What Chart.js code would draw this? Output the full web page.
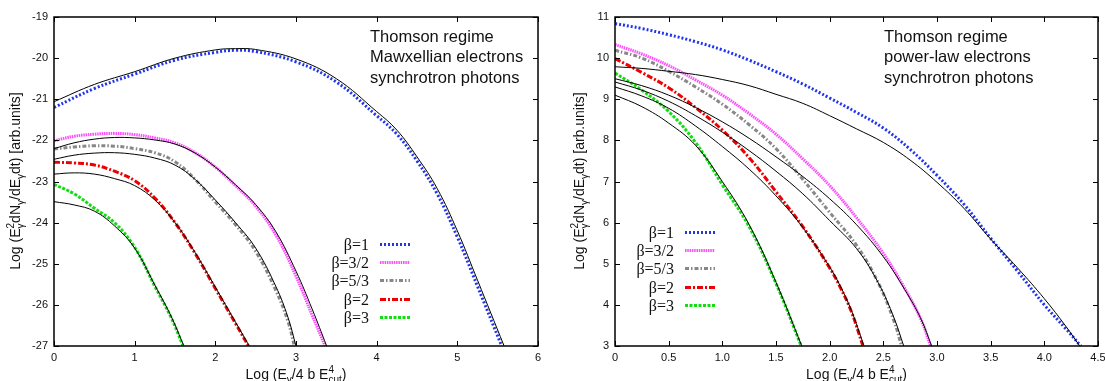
<!DOCTYPE html>
<html lang="en">
<head>
<meta charset="utf-8" />
<script src="https://cdn.jsdelivr.net/npm/chart.js@4.4.1/dist/chart.umd.min.js"></script>
<title>Thomson regime</title>
<style>
    html, body { margin: 0; padding: 0; background: #fff; }
    #izq { position: absolute; left: 0; top: 0; }
    #der { position: absolute; left: 552px; top: 0; }
</style>
</head>
<body>
<canvas id="izq" width="552" height="381"></canvas>
<canvas id="der" width="553" height="381"></canvas>
<script>
// etiquetas de la leyenda
const betas = ["β=1", "β=3/2", "β=5/3", "β=2", "β=3"];

// panel izquierdo: electrones maxwellianos
const leftB1X = [0, 0.5, 1, 1.5, 2, 2.25, 2.5, 3, 3.5, 4, 4.25, 4.5, 4.75, 5, 5.25, 5.55];
const leftB1 = [-21.2, -20.74, -20.39, -20.05, -19.86, -19.81, -19.84, -20.09, -20.58, -21.4, -21.85, -22.5, -23.3, -24.35, -25.55, -27];
const leftB1FitX = [0, 0.5, 1, 1.5, 2, 2.25, 2.5, 3, 3.5, 4, 4.25, 4.5, 4.75, 5, 5.25, 5.58];
const leftB1Fit = [-21.06, -20.64, -20.33, -20.0, -19.8, -19.77, -19.79, -20.02, -20.5, -21.3, -21.75, -22.4, -23.17, -24.2, -25.4, -27];

const leftB32X = [0, 0.25, 0.5, 0.75, 1, 1.25, 1.5, 1.75, 2, 2.25, 2.5, 2.75, 3, 3.2, 3.36];
const leftB32 = [-22.01, -21.9, -21.85, -21.83, -21.86, -21.94, -22.06, -22.3, -22.65, -23.1, -23.6, -24.3, -25.3, -26.25, -27];
const leftB32FitX = [0, 0.25, 0.5, 0.75, 1, 1.25, 1.5, 1.75, 2, 2.25, 2.5, 2.75, 3, 3.2, 3.38];
const leftB32Fit = [-22.2, -22.06, -21.97, -21.93, -21.94, -21.99, -22.09, -22.31, -22.65, -23.08, -23.56, -24.22, -25.18, -26.1, -27];

const leftB53X = [0, 0.25, 0.5, 0.75, 1, 1.25, 1.5, 1.75, 2, 2.25, 2.5, 2.75, 2.9, 2.98];
const leftB53 = [-22.21, -22.16, -22.13, -22.14, -22.2, -22.3, -22.52, -22.95, -23.5, -24.05, -24.7, -25.65, -26.4, -27];
const leftB53FitX = [0, 0.25, 0.5, 0.75, 1, 1.25, 1.5, 1.75, 2, 2.25, 2.5, 2.75, 2.9, 3.0];
const leftB53Fit = [-22.46, -22.36, -22.31, -22.3, -22.34, -22.43, -22.6, -22.95, -23.45, -24.0, -24.62, -25.55, -26.3, -27];

const leftB2X = [0, 0.25, 0.5, 0.75, 1, 1.25, 1.5, 1.75, 2, 2.25, 2.41];
const leftB2 = [-22.53, -22.55, -22.6, -22.75, -22.98, -23.4, -24.0, -24.75, -25.6, -26.45, -27];
const leftB2FitX = [0, 0.25, 0.5, 0.75, 1, 1.25, 1.5, 1.75, 2, 2.25, 2.42];
const leftB2Fit = [-22.82, -22.79, -22.82, -22.93, -23.1, -23.45, -24.0, -24.73, -25.57, -26.42, -27];

const leftB3X = [0, 0.25, 0.5, 0.75, 1, 1.25, 1.45, 1.6];
const leftB3 = [-23.07, -23.3, -23.65, -24.0, -24.6, -25.55, -26.3, -27];
const leftB3FitX = [0, 0.25, 0.5, 0.75, 1, 1.25, 1.45, 1.61];
const leftB3Fit = [-23.49, -23.57, -23.72, -24.08, -24.62, -25.52, -26.27, -27];

// panel derecho: electrones en ley de potencia
const rightB1X = [0, 0.25, 0.5, 0.75, 1, 1.25, 1.5, 1.75, 2, 2.25, 2.5, 2.75, 3, 3.25, 3.5, 3.75, 4, 4.2, 4.34];
const rightB1 = [10.84, 10.72, 10.57, 10.4, 10.2, 9.95, 9.67, 9.37, 9.03, 8.68, 8.3, 7.78, 7.15, 6.45, 5.62, 4.82, 4.0, 3.42, 3.0];
const rightB1FitX = [0, 0.25, 0.5, 0.75, 1, 1.25, 1.5, 1.75, 2, 2.25, 2.5, 2.75, 3, 3.25, 3.5, 3.75, 4, 4.2, 4.33];
const rightB1Fit = [9.79, 9.75, 9.68, 9.6, 9.48, 9.33, 9.12, 8.9, 8.6, 8.28, 7.95, 7.52, 6.98, 6.35, 5.6, 4.9, 4.15, 3.48, 3.0];

const rightB32X = [0, 0.25, 0.5, 0.75, 1, 1.25, 1.5, 1.75, 2, 2.25, 2.5, 2.7, 2.85, 2.94];
const rightB32 = [10.33, 10.1, 9.82, 9.47, 9.1, 8.65, 8.15, 7.55, 6.9, 6.12, 5.25, 4.4, 3.65, 3.0];
const rightB32FitX = [0, 0.25, 0.5, 0.75, 1, 1.25, 1.5, 1.75, 2, 2.25, 2.5, 2.7, 2.85, 2.95];
const rightB32Fit = [9.5, 9.33, 9.1, 8.8, 8.45, 8.05, 7.6, 7.12, 6.58, 5.95, 5.17, 4.37, 3.66, 3.0];

const rightB53X = [0, 0.25, 0.5, 0.75, 1, 1.25, 1.5, 1.75, 2, 2.25, 2.45, 2.6, 2.67];
const rightB53 = [10.19, 10.0, 9.68, 9.3, 8.88, 8.38, 7.8, 7.05, 6.25, 5.45, 4.55, 3.6, 3.0];
const rightB53FitX = [0, 0.25, 0.5, 0.75, 1, 1.25, 1.5, 1.75, 2, 2.25, 2.45, 2.6, 2.69];
const rightB53Fit = [9.42, 9.22, 8.95, 8.6, 8.2, 7.75, 7.25, 6.7, 6.05, 5.37, 4.55, 3.68, 3.0];

const rightB2X = [0, 0.25, 0.5, 0.75, 1, 1.25, 1.5, 1.75, 2, 2.1, 2.2, 2.31];
const rightB2 = [9.99, 9.65, 9.28, 8.8, 8.25, 7.58, 6.75, 5.9, 4.9, 4.42, 3.85, 3.0];
const rightB2FitX = [0, 0.25, 0.5, 0.75, 1, 1.25, 1.5, 1.75, 2, 2.1, 2.2, 2.32];
const rightB2Fit = [9.3, 9.08, 8.78, 8.35, 7.85, 7.3, 6.65, 5.88, 4.92, 4.45, 3.88, 3.0];

const rightB3X = [0, 0.25, 0.5, 0.75, 1, 1.25, 1.5, 1.735];
const rightB3 = [9.64, 9.22, 8.7, 7.95, 6.92, 5.9, 4.52, 3.0];
const rightB3FitX = [0, 0.25, 0.5, 0.75, 1, 1.25, 1.5, 1.74];
const rightB3Fit = [9.1, 8.82, 8.42, 7.88, 7.0, 5.95, 4.55, 3.0];

// textos
const leftNotes = ["Thomson regime", "Mawxellian electrons", "synchrotron photons"];
const rightNotes = ["Thomson regime", "power-law electrons", "synchrotron photons"];
const xTitle = ["Log (E", [null, "γ"], "/4 b E", ["4", "cut"], ")"];
const yTitle = ["Log (E", ["2", "γ"], "dN", [null, "γ"], "/dE", [null, "γ"], "dt) [arb.units]"];

// estilos de cada beta
const estilos = [
    { color: "#1f35f0", dash: [2, 2] },
    { color: "#ff4cff", dash: [1.5, 0.8] },
    { color: "#888888", dash: [4, 2, 1.5, 2] },
    { color: "#ee0000", dash: [6, 2, 2, 2] },
    { color: "#11dd11", dash: [3, 1.5] }
];

const pts = (xs, ys) => xs.map((x, i) => ({ x: x, y: ys[i] }));

function conjuntos(colores, negras) {
    const out = [];
    colores.forEach((c, i) => {
        out.push({ label: betas[i], leyenda: true, data: pts(c[0], c[1]), borderColor: estilos[i].color, borderDash: estilos[i].dash, borderWidth: 3, pointRadius: 0, fill: false, tension: 0.4, order: 1 });
    });
    negras.forEach((n) => {
        out.push({ label: "", data: pts(n[0], n[1]), borderColor: "#000", borderWidth: 1, pointRadius: 0, fill: false, tension: 0.4, order: 0 });
    });
    return out;
}

function rich(ctx, segs, cx, cy, ang, size) {
    const big = size + 'px "Liberation Sans"';
    const small = Math.round(size * 0.72) + 'px "Liberation Sans"';
    const ancho = (s) => {
        if (typeof s === "string") { ctx.font = big; return ctx.measureText(s).width; }
        ctx.font = small;
        return Math.max(s[0] ? ctx.measureText(s[0]).width : 0, s[1] ? ctx.measureText(s[1]).width : 0);
    };
    const total = segs.reduce((a, s) => a + ancho(s), 0);
    ctx.save();
    ctx.translate(cx, cy);
    ctx.rotate(ang);
    ctx.textAlign = "left";
    ctx.textBaseline = "alphabetic";
    let px = -total / 2;
    segs.forEach((s) => {
        const w = ancho(s);
        if (typeof s === "string") {
            ctx.font = big;
            ctx.fillText(s, px, 0);
        } else {
            ctx.font = small;
            if (s[0]) ctx.fillText(s[0], px, -size * 0.45);
            if (s[1]) ctx.fillText(s[1], px, size * 0.32);
        }
        px += w;
    });
    ctx.restore();
}

const gp = {
    id: "gp",
    afterDatasetsDraw(chart, args, o) {
        const { ctx, chartArea: a } = chart;
        const x = chart.scales.x, y = chart.scales.y;
        ctx.save();
        ctx.strokeStyle = "#000";
        ctx.lineWidth = 1;
        ctx.setLineDash([]);
        ctx.beginPath();
        x.ticks.forEach((t) => {
            const p = Math.round(x.getPixelForValue(t.value)) + 0.5;
            ctx.moveTo(p, a.bottom); ctx.lineTo(p, a.bottom - 5);
            ctx.moveTo(p, a.top); ctx.lineTo(p, a.top + 5);
        });
        y.ticks.forEach((t) => {
            const p = Math.round(y.getPixelForValue(t.value)) + 0.5;
            ctx.moveTo(a.left, p); ctx.lineTo(a.left + 5, p);
            ctx.moveTo(a.right, p); ctx.lineTo(a.right - 5, p);
        });
        ctx.stroke();
        ctx.lineWidth = 1.5;
        ctx.strokeRect(a.left, a.top, a.right - a.left, a.bottom - a.top);

        // notas
        ctx.fillStyle = "#111";
        ctx.font = '16.5px "Liberation Sans"';
        ctx.textAlign = "left";
        ctx.textBaseline = "middle";
        o.notas.forEach((t, i) => ctx.fillText(t, o.notaX, o.notaY + i * 20.8));

        // leyenda
        ctx.font = '16px "Liberation Serif"';
        ctx.textAlign = "right";
        chart.data.datasets.filter((d) => d.leyenda).forEach((d, i) => {
            const yy = Math.round(o.leyY + i * 18.2) + 0.5;
            ctx.fillStyle = "#111";
            ctx.fillText(d.label, o.leyX, yy + 1);
            ctx.beginPath();
            ctx.setLineDash(d.borderDash);
            ctx.lineDashOffset = 0;
            ctx.strokeStyle = d.borderColor;
            ctx.lineWidth = d.borderWidth;
            ctx.moveTo(o.leyX + 11, yy);
            ctx.lineTo(o.leyX + 41, yy);
            ctx.stroke();
        });
        ctx.setLineDash([]);

        // titulos de ejes
        ctx.fillStyle = "#111";
        rich(ctx, xTitle, (a.left + a.right) / 2, 379, 0, 14);
        rich(ctx, yTitle, o.yTitX, 181, -Math.PI / 2, 14);
        ctx.restore();
    }
};

function grafico(id, cfg) {
    new Chart(document.getElementById(id), {
        type: "line",
        data: { datasets: cfg.datasets },
        plugins: [gp],
        options: {
            responsive: false,
            animation: false,
            devicePixelRatio: 1,
            layout: { padding: { top: 17, right: cfg.padRight, left: 0, bottom: 0 } },
            plugins: {
                legend: { display: false },
                tooltip: { enabled: false },
                gp: cfg.gp
            },
            scales: {
                x: {
                    type: "linear", min: cfg.xMin, max: cfg.xMax,
                    ticks: { stepSize: cfg.xStep, color: "#111", font: { family: "Liberation Sans", size: 11 }, padding: 5, maxRotation: 0, autoSkip: false },
                    grid: { display: false, drawTicks: false },
                    border: { display: false },
                    afterFit(s) { s.height = 35; s.paddingLeft = 0; s.paddingRight = 0; }
                },
                y: {
                    type: "linear", min: cfg.yMin, max: cfg.yMax,
                    ticks: { stepSize: 1, color: "#111", font: { family: "Liberation Sans", size: 11 }, padding: 6 },
                    grid: { display: false, drawTicks: false },
                    border: { display: false },
                    afterFit(s) { s.width = cfg.yWidth; s.paddingTop = 0; s.paddingBottom = 0; }
                }
            }
        }
    });
}

grafico("izq", {
    xMin: 0, xMax: 6, xStep: 1, yMin: -27, yMax: -19, yWidth: 54, padRight: 14,
    datasets: conjuntos(
        [[leftB1X, leftB1], [leftB32X, leftB32], [leftB53X, leftB53], [leftB2X, leftB2], [leftB3X, leftB3]],
        [[leftB1FitX, leftB1Fit], [leftB32FitX, leftB32Fit], [leftB53FitX, leftB53Fit], [leftB2FitX, leftB2Fit], [leftB3FitX, leftB3Fit]]
    ),
    gp: { notas: leftNotes, notaX: 370, notaY: 37, leyX: 369, leyY: 244, yTitX: 20 }
});

grafico("der", {
    xMin: 0, xMax: 4.5, xStep: 0.5, yMin: 3, yMax: 11, yWidth: 63, padRight: 7,
    datasets: conjuntos(
        [[rightB1X, rightB1], [rightB32X, rightB32], [rightB53X, rightB53], [rightB2X, rightB2], [rightB3X, rightB3]],
        [[rightB1FitX, rightB1Fit], [rightB32FitX, rightB32Fit], [rightB53FitX, rightB53Fit], [rightB2FitX, rightB2Fit], [rightB3FitX, rightB3Fit]]
    ),
    gp: { notas: rightNotes, notaX: 332, notaY: 37, leyX: 122, leyY: 232, yTitX: 32 }
});
</script>
</body>
</html>
